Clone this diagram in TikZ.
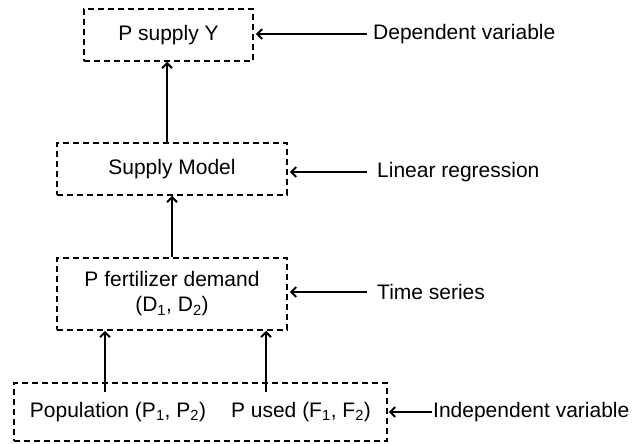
\documentclass[tikz,border=0pt]{standalone}
\usepackage{fontspec}
\setmainfont{Liberation Sans}
\usetikzlibrary{arrows.meta,calc}
\begin{document}
\begin{tikzpicture}[x=1pt,y=1pt,
  box/.style={draw,line width=1.5pt,dash pattern=on 6pt off 4pt,inner sep=0pt,align=center,font=\fontsize{21}{25}\selectfont},
  lab/.style={anchor=west,inner sep=0pt,font=\fontsize{21}{25}\selectfont},
  txt/.style={inner sep=0pt,font=\fontsize{21}{25}\selectfont},
  arr/.style={line width=2pt,-{Straight Barb[length=5pt,width=10pt,line width=2pt]}}]
\useasboundingbox (0,0) rectangle (642,-444);
\node[box,minimum width=169pt,minimum height=52pt] (top) at (168.5,-35) {P supply Y};
\node[box,minimum width=230pt,minimum height=52pt] (sup) at (172,-169) {Supply Model};
\node[box,minimum width=230pt,minimum height=72pt] (fert) at (172,-294) {P fertilizer demand\\(D\textsubscript{1}, D\textsubscript{2})};
\node[box,minimum width=373pt,minimum height=58pt] (bot) at (200.5,-412) {};
\node[txt] (pop) at (118,-412) {Population (P\textsubscript{1}, P\textsubscript{2})};
\node[txt] (used) at (301,-412) {P used (F\textsubscript{1}, F\textsubscript{2})};
\node[lab] (dep) at (373,-34) {Dependent variable};
\node[lab] (lin) at (377,-172) {Linear regression};
\node[lab] (ts) at (377,-292) {Time series};
\node[lab] (ind) at (433,-412) {Independent variable};
\coordinate (b1) at (105,-392);
\coordinate (b2) at (266,-392);
\draw[arr] ($(dep.west)+(-6,0)$) -- ($(dep.west -| top.east)+(2,0)$);
\draw[arr] ($(lin.west)+(-10,0)$) -- ($(lin.west -| sup.east)+(2,0)$);
\draw[arr] ($(ts.west)+(-10,0)$) -- ($(ts.west -| fert.east)+(2,0)$);
\draw[arr] ($(ind.west)+(-1,0)$) -- ($(ind.west -| bot.east)+(1,0)$);
\draw[arr] ($(sup.north -| top.south)+(-1.5,0)$) -- ($(top.south)+(-1.5,0)$);
\draw[arr] (fert.north) -- (sup.south);
\draw[arr] (b1) -- (b1 |- fert.south);
\draw[arr] (b2) -- (b2 |- fert.south);
\end{tikzpicture}
\end{document}
